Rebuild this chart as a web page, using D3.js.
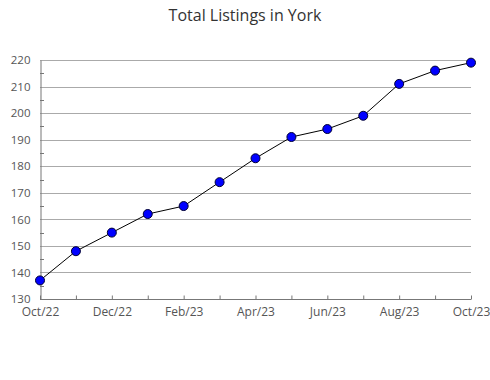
<!DOCTYPE html>
<html>
<head>
<meta charset="utf-8">
<script src="https://cdn.jsdelivr.net/npm/d3@7"></script>
<style>
  body { margin: 0; background: #fff; }
  text { font-family: "Open Sans", "Noto Sans", sans-serif; }
</style>
</head>
<body>
<div id="chart"></div>
<script>
// data
const months = ['Oct/22', 'Nov/22', 'Dec/22', 'Jan/23', 'Feb/23', 'Mar/23', 'Apr/23',
  'May/23', 'Jun/23', 'Jul/23', 'Aug/23', 'Sep/23', 'Oct/23'];
const listings = [137, 148, 155, 162, 165, 174, 183, 191, 194, 199, 211, 216, 219];
const yTicks = [130, 140, 150, 160, 170, 180, 190, 200, 210, 220];
const labelEvery = 2;

const width = 490;
const height = 380;
const plotLeft = 40, plotRight = 471, plotTop = 60, plotBottom = 299;

const svg = d3.select('#chart').append('svg')
  .attr('width', width)
  .attr('height', height);

// title
svg.append('text')
  .attr('x', 245)
  .attr('y', 21)
  .attr('text-anchor', 'middle')
  .attr('font-size', '16px')
  .attr('fill', '#333')
  .text('Total Listings in York');

const x = d3.scalePoint().domain(months).range([plotLeft, plotRight]);
const y = d3.scaleLinear().domain([130, 220]).range([plotBottom, plotTop]);

// gridlines
svg.append('g')
  .selectAll('line')
  .data(yTicks.slice(1))
  .join('line')
  .attr('x1', plotLeft)
  .attr('x2', plotRight)
  .attr('y1', d => Math.round(y(d)) + 0.5)
  .attr('y2', d => Math.round(y(d)) + 0.5)
  .attr('stroke', '#aaa')
  .attr('stroke-width', 1);

// minor ticks on y axis
const minor = d3.range(135, 220, 10);
svg.append('g')
  .selectAll('line')
  .data(minor)
  .join('line')
  .attr('x1', plotLeft)
  .attr('x2', plotLeft + 4)
  .attr('y1', d => Math.round(y(d)) + 0.5)
  .attr('y2', d => Math.round(y(d)) + 0.5)
  .attr('stroke', '#777');

// y axis
const yAxis = svg.append('g')
  .attr('transform', `translate(${plotLeft + 0.5},0)`)
  .call(d3.axisLeft(y).tickValues(yTicks).tickSize(0).tickPadding(10));
yAxis.select('.domain').attr('stroke', '#777');
yAxis.selectAll('text').attr('font-size', '11.5px').attr('fill', '#555')
  .attr('font-family', '"Open Sans", sans-serif');

// x axis
const xAxis = svg.append('g')
  .attr('transform', `translate(0,${plotBottom + 0.5})`)
  .call(d3.axisBottom(x).tickSize(-4).tickPadding(8)
    .tickFormat((d, i) => i % labelEvery === 0 ? d : ''));
xAxis.select('.domain').attr('stroke', '#777').attr('d', `M${plotLeft},0H${plotRight}`);
xAxis.selectAll('.tick line').attr('stroke', '#777');
xAxis.selectAll('text').attr('font-size', '12px').attr('fill', '#555')
  .attr('font-family', '"Open Sans", sans-serif');

// line
const line = d3.line()
  .x((d, i) => x(months[i]))
  .y(d => y(d));

svg.append('path')
  .datum(listings)
  .attr('d', line)
  .attr('fill', 'none')
  .attr('stroke', '#000')
  .attr('stroke-width', 1);

// points
svg.append('g')
  .selectAll('circle')
  .data(listings)
  .join('circle')
  .attr('cx', (d, i) => x(months[i]))
  .attr('cy', d => y(d))
  .attr('r', 4.5)
  .attr('fill', '#0000ff')
  .attr('stroke', '#000033')
  .attr('stroke-width', 1);
</script>
</body>
</html>
